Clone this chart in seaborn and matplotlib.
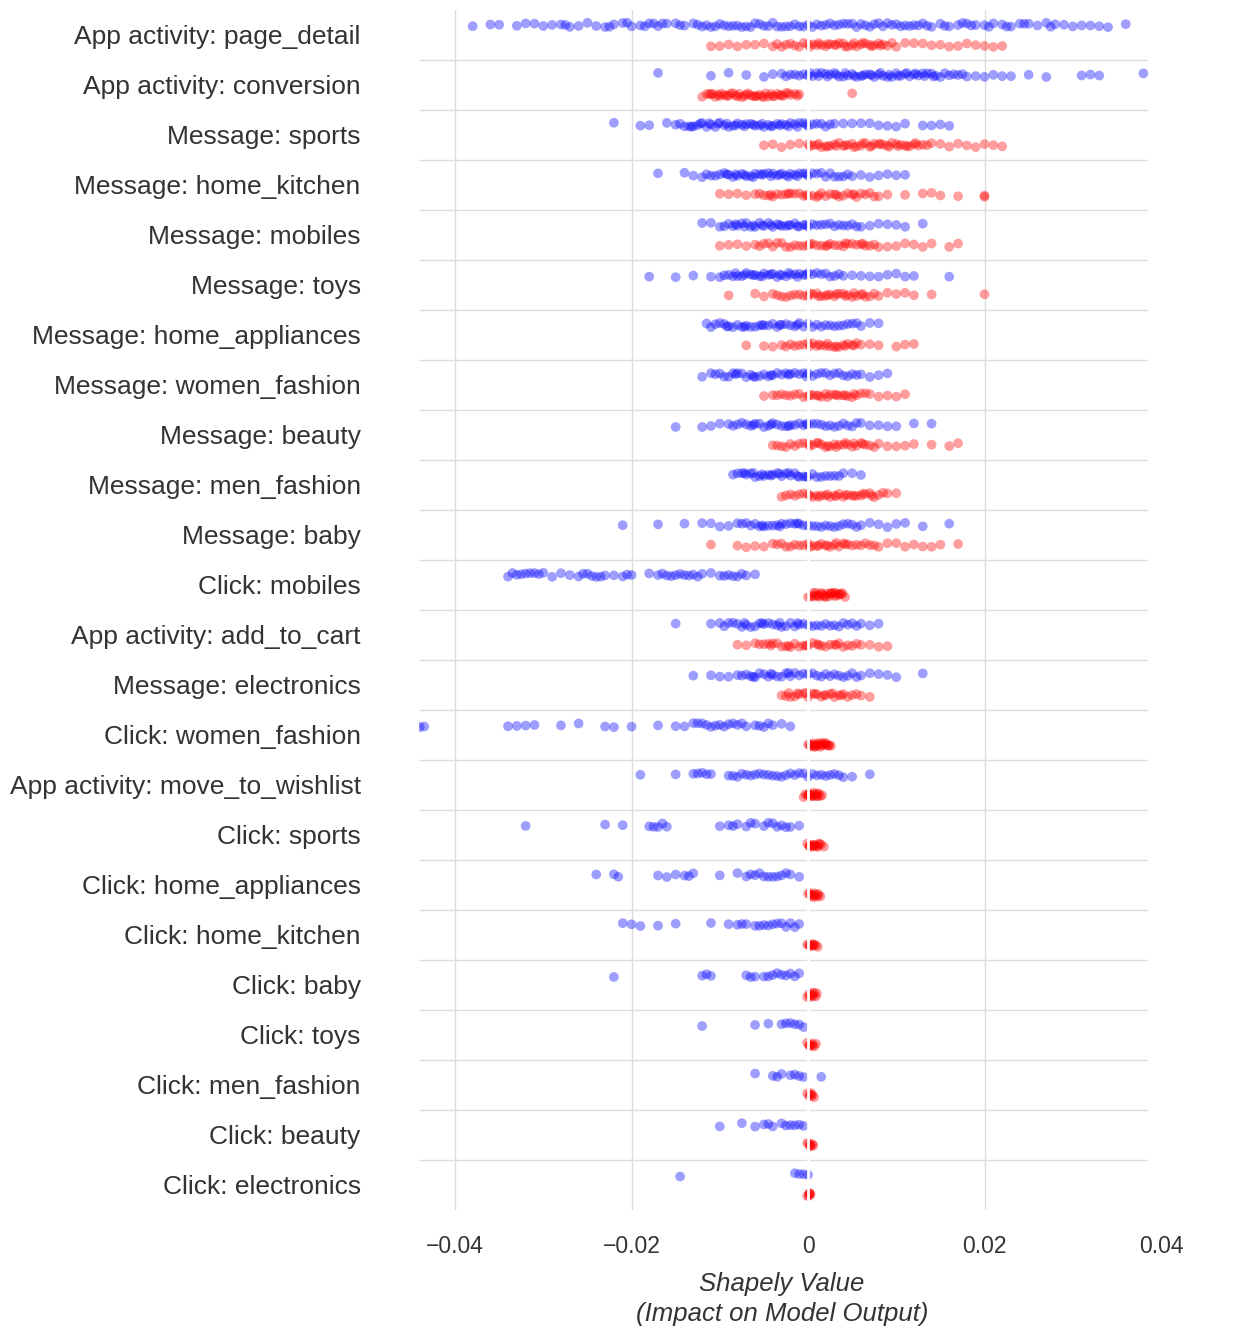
import matplotlib
matplotlib.use("Agg")
import matplotlib.pyplot as plt
import seaborn as sns
import pandas as pd

features = ["App activity: page_detail","App activity: conversion","Message: sports","Message: home_kitchen",
 "Message: mobiles","Message: toys","Message: home_appliances","Message: women_fashion","Message: beauty",
 "Message: men_fashion","Message: baby","Click: mobiles","App activity: add_to_cart","Message: electronics",
 "Click: women_fashion","App activity: move_to_wishlist","Click: sports","Click: home_appliances",
 "Click: home_kitchen","Click: baby","Click: toys","Click: men_fashion","Click: beauty","Click: electronics"]

# values in units of 0.001
blue = [
 "-38 -36 -35 -33 -32 -31 -30 -29 -28 -27 -26 -25 -24 -23 -22 -21 -20 -19 -18 -17 -16 -15 -14 -13 -12 -11 -10 -9 -8 -7 -6 -5 -4 -3 -2 -1 0 1 2 3 4 5 6 7 8 9 10 11 12 13 14 15 16 17 18 19 20 21 22 23 24 25 26 27 28 29 30 31 32 33 34 36 -27.5 -22.5 -17.5 -12.5 -7.5 -2.5 2.5 7.5 12.5 17.5 22.5 27.5 -5.5 -3.5 -1.5 0.5 1.5 3.5 5.5 -9.5 9.5 -20.5 -18.5 -16.5 -14.5 -11.5 -10.5 -8.5 -6.5 -4.5 -0.5 4.5 6.5 8.5 10.5 11.5 13.5 15.5 18.5 20.5 24.5",
 "-17 -11 -9 -7 -5 -4 -3 -2.5 -2 -1.5 -1 -0.5 0 0.5 1 1.5 2 2.5 3 3.5 4 4.5 5 5.5 6 6.5 7 7.5 8 8.5 9 9.5 10 10.5 11 11.5 12 12.5 13 13.5 14 14.5 15 16 17 18 19 20 21 22 23 25 27 31 32 33 38 0.2 1.2 2.2 3.2 4.2 5.2 6.2 7.2 8.2 9.2 10.2 11.2 12.2 13.2 14.2 15.5 16.5 17.5",
 "-22 -19 -18 -16 -15 -14.5 -14 -13.5 -13 -12.5 -12 -11.5 -11 -10.5 -10 -9.5 -9 -8.5 -8 -7.5 -7 -6.5 -6 -5.5 -5 -4.5 -4 -3.5 -3 -2.5 -2 -1.5 -1 -0.5 0 0.5 1 1.5 2 3 4 5 6 7 8 9 10 11 13 14 15 16 -13.2 -12.2 -11.2 -10.2 -9.2 -8.2 -7.2 -6.2 -5.2 -4.2 -3.2 -2.2 -1.2 -0.2 2.5",
 "-17 -14 -13 -12 -11.5 -11 -10.5 -10 -9.5 -9 -8.5 -8 -7.5 -7 -6.5 -6 -5.5 -5 -4.5 -4 -3.5 -3 -2.5 -2 -1.5 -1 -0.5 0 0.5 1 1.5 2 2.5 3 3.5 4 4.5 5 6 7 8 9 10 11 -9.2 -8.2 -7.2 -6.2 -5.2 -4.2 -3.2 -2.2 -1.2 -0.2",
 "-12 -11 -10 -9.5 -9 -8.5 -8 -7.5 -7 -6.5 -6 -5.5 -5 -4.5 -4 -3.5 -3 -2.5 -2 -1.5 -1 -0.5 0 0.5 1 1.5 2 2.5 3 3.5 4 4.5 5 5.5 6 7 8 9 10 11 13 -8.2 -7.2 -6.2 -5.2 -4.2 -3.2 -2.2 -1.2 -0.2",
 "-18 -15 -13 -11 -10 -9.5 -9 -8.5 -8 -7.5 -7 -6.5 -6 -5.5 -5 -4.5 -4 -3.5 -3 -2.5 -2 -1.5 -1 -0.5 0 0.5 1 1.5 2 2.5 3 3.5 4 5 6 7 8 9 10 11 12 16 -8.2 -7.2 -6.2 -5.2 -4.2 -3.2 -2.2 -1.2 -0.2",
 "-11.5 -11 -10.5 -10 -9.5 -9 -8.5 -8 -7.5 -7 -6.5 -6 -5.5 -5 -4.5 -4 -3.5 -3 -2.5 -2 -1.5 -1 -0.5 0 0.5 1 1.5 2 2.5 3 3.5 4 4.5 5 5.5 6 7 8 -9.2 -7.2 -5.2 -3.2 -1.2",
 "-12 -11 -10.5 -10 -9.5 -9 -8.5 -8 -7.5 -7 -6.5 -6 -5.5 -5 -4.5 -4 -3.5 -3 -2.5 -2 -1.5 -1 -0.5 0 0.5 1 1.5 2 2.5 3 3.5 4 4.5 5 5.5 6 7 8 9 -8.2 -6.2 -4.2 -2.2 -0.2",
 "-15 -12 -11 -10 -9 -8.5 -8 -7.5 -7 -6.5 -6 -5.5 -5 -4.5 -4 -3.5 -3 -2.5 -2 -1.5 -1 -0.5 0 0.5 1 1.5 2 2.5 3 3.5 4 4.5 5 5.5 6 7 8 9 10 12 14 -6.2 -4.2 -2.2 -0.2",
 "-8.5 -8 -7.5 -7 -6.5 -6 -5.5 -5 -4.5 -4 -3.5 -3 -2.5 -2 -1.5 -1 -0.5 0 0.5 1 1.5 2 2.5 3 3.5 4 5 6 -7.2 -6.2 -5.2 -4.2 -3.2 -2.2 -1.2 -0.2",
 "-21 -17 -14 -12 -11 -10 -9 -8 -7.5 -7 -6.5 -6 -5.5 -5 -4.5 -4 -3.5 -3 -2.5 -2 -1.5 -1 -0.5 0 0.5 1 1.5 2 2.5 3 3.5 4 4.5 5 5.5 6 7 8 9 10 11 13 16 -5.2 -3.2 -1.2",
 "-34 -33.5 -33 -32.5 -32 -31.5 -31 -30.5 -30 -29 -28 -27 -26 -25.5 -25 -24.5 -24 -23.5 -23 -22 -21 -20.5 -20 -18 -17 -16.5 -16 -15.5 -15 -14.5 -14 -13.5 -13 -12.5 -12 -11 -10 -9.5 -9 -8.5 -8 -7.5 -7 -6",
 "-15 -11 -10 -9.5 -9 -8.5 -8 -7.5 -7 -6.5 -6 -5.5 -5 -4.5 -4 -3.5 -3 -2.5 -2 -1.5 -1 -0.5 0 0.5 1 1.5 2 2.5 3 3.5 4 4.5 5 5.5 6 7 8 -7.2 -5.2 -3.2 -1.2",
 "-13 -11 -10 -9 -8 -7.5 -7 -6.5 -6 -5.5 -5 -4.5 -4 -3.5 -3 -2.5 -2 -1.5 -1 -0.5 0 0.5 1 1.5 2 2.5 3 3.5 4 4.5 5 5.5 6 7 8 9 10 13 -6.2 -4.2 -2.2",
 "-44 -43.5 -34 -33 -32 -31 -28 -26 -23 -22 -20 -17 -15 -14 -13 -12.5 -12 -11.5 -11 -10.5 -10 -9.5 -9 -8.5 -8 -7.5 -7 -6 -5.5 -5 -4.5 -4 -3 -2",
 "-19 -15 -13 -12.5 -12 -11.5 -11 -9 -8.5 -8 -7.5 -7 -6.5 -6 -5.5 -5 -4.5 -4 -3.5 -3 -2.5 -2 -1.5 -1 -0.5 0 0.5 1 1.5 2 2.5 3 3.5 4 5 7",
 "-32 -23 -21 -18 -17.5 -17 -16.5 -16 -10 -9 -8.5 -8 -7 -6.5 -6 -5 -4.5 -4 -3.5 -3 -2.5 -2 -1",
 "-24 -22 -21.5 -17 -16 -15 -14 -13.5 -13 -10 -8 -7 -6.5 -6 -5.5 -5 -4.5 -4 -3.5 -3 -2.5 -2 -1",
 "-21 -20 -19 -17 -15 -11 -9 -8 -7.5 -7 -6 -5.5 -5 -4.5 -4 -3.5 -3 -2.5 -2 -1.5 -1",
 "-22 -12 -11.5 -11 -7 -6.5 -6 -5 -4.5 -4 -3.5 -3 -2.5 -2 -1.5 -1",
 "-12 -6 -4.5 -3 -2.5 -2 -1.5 -1 -0.5",
 "-6 -4 -3.5 -3 -2 -1.5 -1 -0.5 1.5",
 "-10 -7.5 -6 -5 -4.5 -4 -3 -2.5 -2 -1.5 -1 -0.5",
 "-14.5 -1.5 -1 -0.5 0",
]
red = [
 "-11 -10 -9 -8 -7 -6 -5 -4 -3.5 -3 -2.5 -2 -1.5 -1 -0.5 0 0.5 1 1.5 2 2.5 3 3.5 4 4.5 5 5.5 6 6.5 7 7.5 8 8.5 9 9.5 10 11 12 13 14 15 16 17 18 19 20 21 22 0.2 1.2 2.2 3.2 4.2 5.2 6.2 7.2 8.2",
 "-12 -11.5 -11 -10.5 -10 -9.5 -9 -8.5 -8 -7.5 -7 -6.5 -6 -5.5 -5 -4.5 -4 -3.5 -3 -2.5 -2 -1.5 -1 5 -11.2 -10.2 -9.2 -8.2 -7.2 -6.2 -5.2 -4.2 -3.2 -2.2 -1.2 -10.8 -9.8 -8.8 -7.8 -6.8 -5.8 -4.8 -3.8 -2.8",
 "-5 -4 -3 -2 -1 0 0.5 1 1.5 2 2.5 3 3.5 4 4.5 5 5.5 6 6.5 7 7.5 8 8.5 9 9.5 10 10.5 11 11.5 12 12.5 13 13.5 14 15 16 17 18 19 20 21 22 0.2 1.2 2.2 3.2 4.2 5.2 6.2 7.2 8.2 9.2 10.2 11.2 12.2",
 "-10 -9 -8 -7 -6 -5.5 -5 -4.5 -4 -3.5 -3 -2.5 -2 -1.5 -1 -0.5 0 0.5 1 1.5 2 2.5 3 3.5 4 4.5 5 5.5 6 6.5 7 7.5 8 9 11 13 14 15 17 20 20 -4.2 -2.2 -0.2 1.2 3.2 5.2",
 "-10 -9 -8 -7 -6 -5.5 -5 -4.5 -4 -3.5 -3 -2.5 -2 -1.5 -1 -0.5 0 0.5 1 1.5 2 2.5 3 3.5 4 4.5 5 5.5 6 6.5 7 7.5 8 9 10 11 12 13 14 16 17 0.2 2.2 4.2 6.2",
 "-9 -6 -5 -4 -3.5 -3 -2.5 -2 -1.5 -1 -0.5 0 0.5 1 1.5 2 2.5 3 3.5 4 4.5 5 5.5 6 6.5 7 7.5 8 9 10 11 12 14 20 0.2 1.2 2.2 3.2 4.2 5.2 6.2",
 "-7 -5 -4 -3 -2.5 -2 -1.5 -1 -0.5 0 0.5 1 1.5 2 2.5 3 3.5 4 4.5 5 5.5 6 7 8 10 11 12 0.2 1.2 2.2 3.2 4.2 5.2",
 "-5 -4 -3.5 -3 -2.5 -2 -1.5 -1 -0.5 0 0.5 1 1.5 2 2.5 3 3.5 4 4.5 5 5.5 6 6.5 7 8 9 10 11 0.2 1.2 2.2 3.2 4.2 5.2",
 "-4 -3.5 -3 -2.5 -2 -1.5 -1 -0.5 0 0.5 1 1.5 2 2.5 3 3.5 4 4.5 5 5.5 6 6.5 7 7.5 8 9 10 11 12 14 16 17 0.2 1.2 2.2 3.2 4.2 5.2 6.2",
 "-3 -2.5 -2 -1.5 -1 -0.5 0 0.5 1 1.5 2 2.5 3 3.5 4 4.5 5 5.5 6 6.5 7 7.5 8 8.5 9 10 0.2 1.2 2.2 3.2 4.2 5.2 6.2 7.2",
 "-11 -8 -7 -6 -5 -4 -3.5 -3 -2.5 -2 -1.5 -1 -0.5 0 0.5 1 1.5 2 2.5 3 3.5 4 4.5 5 5.5 6 6.5 7 7.5 8 9 10 11 12 13 14 15 17 0.2 1.2 2.2 3.2 4.2",
 "0 0.3 0.6 0.9 1.2 1.5 1.8 2.1 2.4 2.7 3 3.3 3.6 3.9 4.2 0.5 1 1.5 2 2.5 3 3.5 0.8 1.3 1.9 2.6 3.1 3.8",
 "-8 -7 -6 -5.5 -5 -4.5 -4 -3.5 -3 -2.5 -2 -1.5 -1 -0.5 0 0.5 1 1.5 2 2.5 3 3.5 4 4.5 5 5.5 6 7 8 9 -4.2 -2.2 -0.2 1.2 3.2",
 "-3 -2.5 -2 -1.5 -1 -0.5 0 0.5 1 1.5 2 2.5 3 3.5 4 4.5 5 5.5 6 7 -2.2 -1.2 -0.2 0.8 1.8 2.8 3.8",
 "0 0.2 0.4 0.6 0.8 1 1.2 1.4 1.6 1.8 2 2.2 2.4 2.6 0.5 1 1.5 2 0.3 0.7 1.1 1.7 2.3",
 "-0.5 -0.3 0 0.2 0.4 0.6 0.8 1 1.2 1.4 1.6 0 0.5 1 0.1 0.3 0.7 1.1",
 "-0.1 0.1 0.3 0.5 0.7 0.9 1.1 1.3 1.5 1.8 0.5 1 0.2 0.6 1.2",
 "0 0.2 0.4 0.6 0.8 1 1.2 1.4 0.5 0.3 0.7 1.1",
 "-0.1 0.1 0.3 0.5 0.7 0.9 1.1 0.5 0.2 0.6",
 "-0.1 0.1 0.3 0.5 0.7 0.9 1 0.5 0.2 0.6",
 "-0.1 0.1 0.3 0.5 0.7 0.9 0.5 0.2",
 "-0.1 0.1 0.3 0.5 0.7 0.3 0.4",
 "-0.1 0.1 0.3 0.5 0.6 0.3 0.2",
 "-0.1 0.1 0.2 0.3 0.1 0.2",
]

rows = []
for f, b, r in zip(features, blue, red):
    rows += [(f, float(v) / 1000, "low") for v in b.split()]
    rows += [(f, float(v) / 1000, "high") for v in r.split()]
df = pd.DataFrame(rows, columns=["feature", "shap", "level"])

sns.set_theme(style="white")
plt.rcParams['font.family'] = ['Liberation Sans', 'DejaVu Sans']
fig = plt.figure(figsize=(12.42, 13.32), dpi=100)
ax = fig.add_axes([0.3374, 0.0916, 0.6006, 0.9009])
XMIN, XMAX = -0.04408, 0.04045
sns.stripplot(data=df, x="shap", y="feature", hue="level", order=features,
              hue_order=["low", "high"], palette={"low": "blue", "high": "red"},
              dodge=True, jitter=0.09, size=7, alpha=0.38, linewidth=0, ax=ax, legend=False)
ax.hlines([i + 0.5 for i in range(len(features) - 1)], XMIN, 0.0384, color="#dddddd", lw=1, zorder=0)
for t in [-0.04, -0.02, 0.02]:
    ax.axvline(t, color="#dddddd", lw=1, zorder=0)
ax.axvline(0, color="white", lw=2, zorder=5)
ax.set_xlim(XMIN, XMAX)
ax.set_ylim(len(features) - 0.5, -0.5)
ax.set_xticks([-0.04, -0.02, 0, 0.02, 0.04])
ax.set_xticklabels(["−0.04", "−0.02", "0", "0.02", "0.04"])
ax.tick_params(axis="x", labelsize=16.5, colors="#333333", pad=18, length=0)
ax.tick_params(axis="y", labelsize=19, colors="#333333", pad=42, length=0)
ax.set_ylabel("")
ax.set_xlabel("Shapely Value\n(Impact on Model Output)", fontsize=18.5, style="italic",
              color="#333333", labelpad=10, linespacing=1.3)
ax.xaxis.label.set_x((808 - 419) / 746 - 0.035)
for s in ax.spines.values():
    s.set_visible(False)
fig.savefig("out.png", dpi=100)
